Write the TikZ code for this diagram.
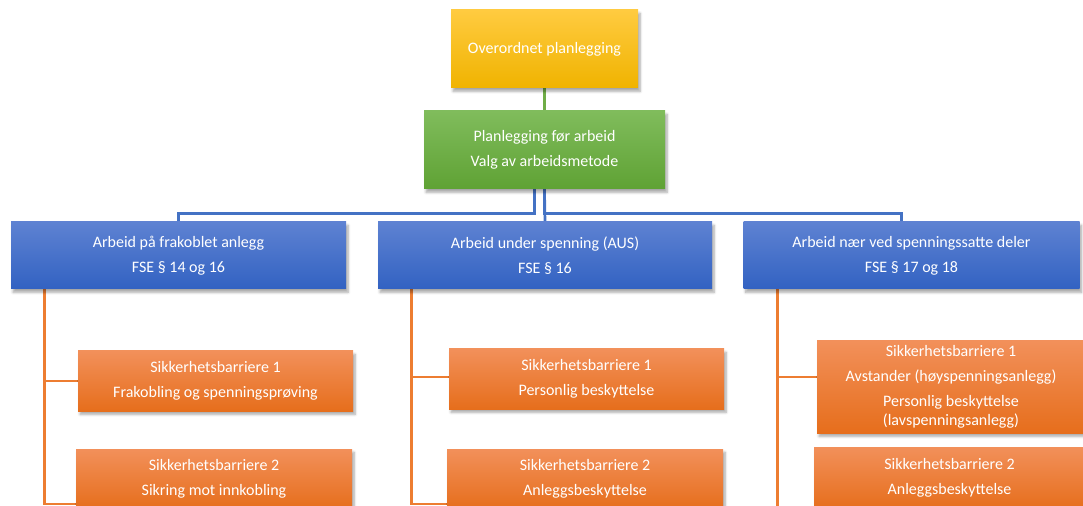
\documentclass[tikz,border=0pt]{standalone}
\usepackage{fontspec}
\setmainfont{Carlito}
\usetikzlibrary{shadows.blur}
\pgfdeclarelayer{bg}
\pgfsetlayers{bg,main}
\definecolor{yTop}{HTML}{FFCB40}
\definecolor{yBot}{HTML}{F0B300}
\definecolor{gTop}{HTML}{80BC5C}
\definecolor{gBot}{HTML}{5FA234}
\definecolor{bTop}{HTML}{5E82D2}
\definecolor{bBot}{HTML}{3262C2}
\definecolor{oTop}{HTML}{F2905A}
\definecolor{oBot}{HTML}{E66E1C}
\definecolor{bLine}{HTML}{4472C4}
\definecolor{oLine}{HTML}{ED7D31}
\definecolor{gLine}{HTML}{70AD47}
\begin{document}
\begin{tikzpicture}[x=0.75pt,y=-0.75pt,
  boxbase/.style={rectangle, inner sep=0pt, align=center, text=white,
    font=\fontsize{12}{18.75}\selectfont,
    blur shadow={shadow xshift=1.5pt, shadow yshift=-2.5pt, shadow blur steps=6, shadow opacity=35}},
  ybox/.style={boxbase, top color=yTop, bottom color=yBot},
  gbox/.style={boxbase, top color=gTop, bottom color=gBot},
  bbox/.style={boxbase, top color=bTop, bottom color=bBot, minimum height=50.25pt},
  obox/.style={boxbase, top color=oTop, bottom color=oBot},
  bline/.style={draw=bLine, line width=2pt},
  oline/.style={draw=oLine, line width=2pt},
  gline/.style={draw=gLine, line width=2pt}]
\useasboundingbox (0,0) rectangle (1083,506);
\clip (0,0) rectangle (1083,506);

\node[ybox, minimum width=140.25pt, minimum height=58.5pt] (y1) at (544.5,49) {Overordnet planlegging};
\node[gbox, minimum width=180.75pt, minimum height=58.5pt] (g) at (544.5,150) {Planlegging før arbeid\\Valg av arbeidsmetode};

\node[bbox, minimum width=251.25pt] (b1) at (178.5,255.5) {Arbeid på frakoblet anlegg\\FSE § 14 og 16};
\node[bbox, minimum width=250.5pt] (b2) at (545,255.5) {Arbeid under spenning (AUS)\\FSE § 16};
\node[bbox, minimum width=252pt] (b3) at (911.5,255.5) {Arbeid nær ved spenningssatte deler\\FSE § 17 og 18};

\node[obox, minimum width=206.25pt, minimum height=45pt] (c11) at (215.5,381) {Sikkerhetsbarriere 1\\Frakobling og spenningsprøving};
\node[obox, minimum width=207pt, minimum height=45pt] (c12) at (214,479) {Sikkerhetsbarriere 2\\Sikring mot innkobling};
\node[obox, minimum width=206.25pt, minimum height=45pt] (c21) at (586.5,379) {Sikkerhetsbarriere 1\\Personlig beskyttelse};
\node[obox, minimum width=207pt, minimum height=45pt] (c22) at (585,479) {Sikkerhetsbarriere 2\\Anleggsbeskyttelse};
\node[obox, minimum width=201pt, minimum height=69pt] (c31) at (951,387) {Sikkerhetsbarriere 1\\Avstander (høyspenningsanlegg)\\Personlig beskyttelse\\[-4.5pt](lavspenningsanlegg)};
\node[obox, minimum width=203.25pt, minimum height=46.5pt] (c32) at (949.5,478) {Sikkerhetsbarriere 2\\Anleggsbeskyttelse};

\begin{pgfonlayer}{bg}
\draw[gline] (y1.south) -- (g.north);
\draw[bline] ([xshift=-7.5pt]g.south) -- ++(0,24) -| (b1.north);
\draw[bline] (g.south) -- (b2.north);
\draw[bline] (g.south) -- ++(0,24) -| ([xshift=-7.5pt]b3.north);
\draw[oline] ([xshift=25.5pt]b1.south west) |- (c11.west);
\draw[oline] ([xshift=25.5pt]b1.south west) |- ([yshift=-18.75pt]c12.west);
\draw[oline] ([xshift=25.5pt]b2.south west) |- ([yshift=1.5pt]c21.west);
\draw[oline] ([xshift=25.5pt]b2.south west) |- ([yshift=-18.75pt]c22.west);
\draw[oline] ([xshift=25.5pt]b3.south west) |- ([yshift=7.5pt]c31.west);
\draw[oline] ([xshift=25.5pt]b3.south west) |- ([yshift=-22.5pt]c32.west);
\end{pgfonlayer}
\end{tikzpicture}
\end{document}
